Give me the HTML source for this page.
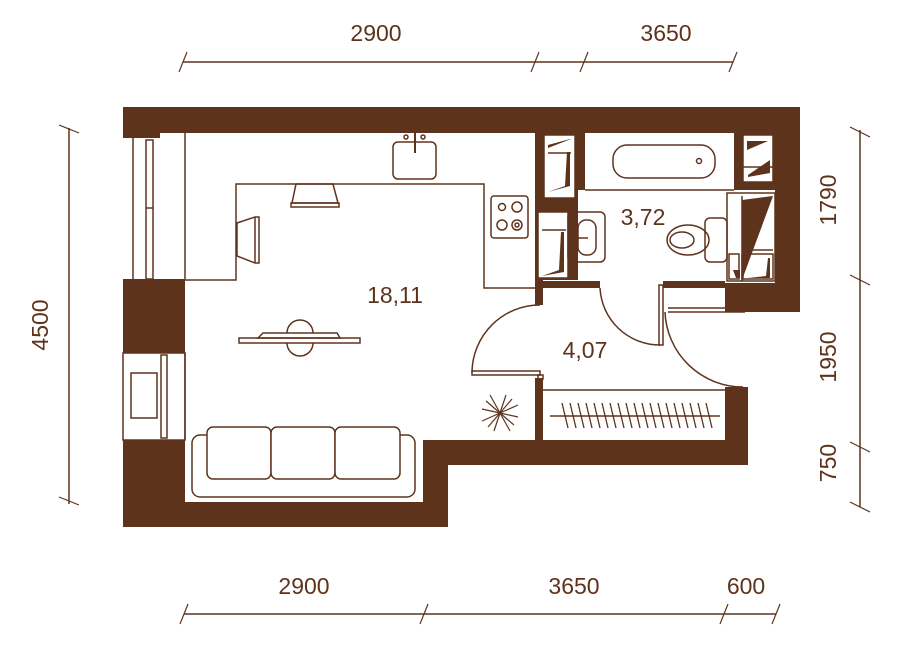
<!DOCTYPE html>
<html><head><meta charset="utf-8"><style>
html,body{margin:0;padding:0;background:#fff;width:900px;height:646px;overflow:hidden}
text{font-family:"Liberation Sans",sans-serif;fill:#5e331c;font-size:23px}
</style></head><body>
<svg width="900" height="646" viewBox="0 0 900 646" xmlns="http://www.w3.org/2000/svg">
<g fill="#5e331c" stroke="none">
<!-- top wall -->
<rect x="123" y="107" width="677" height="26"/>
<rect x="123" y="133" width="37" height="5"/>
<!-- left dark blocks -->
<rect x="123" y="279" width="62" height="74"/>
<rect x="123" y="440" width="62" height="87"/>
<!-- bottom wall -->
<rect x="123" y="502" width="325" height="25"/>
<rect x="423" y="440" width="25" height="87"/>
<rect x="423" y="440" width="325" height="25"/>
<rect x="725" y="387" width="23" height="78"/>
<!-- right wall -->
<rect x="775" y="107" width="25" height="205"/>
<rect x="734" y="133" width="41" height="57"/>
<rect x="725" y="283" width="75" height="29"/>
<!-- central column -->
<rect x="535" y="133" width="50" height="57"/>
<rect x="535" y="190" width="43" height="90"/>
<rect x="535" y="280" width="8" height="25"/>
<rect x="535" y="281" width="65" height="7"/>
<rect x="663" y="281" width="62" height="7"/>
<rect x="535" y="378" width="8" height="62"/>
</g>
<g fill="#fff" stroke="#5e331c" stroke-width="1.5">
<!-- shafts -->
<rect x="544" y="135" width="31" height="63"/>
<rect x="538" y="212" width="30" height="66"/>
<rect x="743" y="135" width="30" height="47"/>
<rect x="727" y="193" width="48" height="88"/>
</g>
<g fill="#5e331c">
<polygon points="548,192 570,186 570,152 567,152 565,186"/>
<polygon points="548,145 570,139 571,139 548,148" />
<polygon points="542,276 564,272 564,232 561,232 559,270"/>
<polygon points="748,177 770,173 770,160 748,175"/>
<polygon points="747,150 768,141 747,141"/>
<polygon points="742,200 773,196 742,280"/>
<polygon points="733,270 740,270 740,278 736,278"/>
<polygon points="748,278 770,278 770,258 768,258 766,276"/>
</g>
<g fill="none" stroke="#5e331c" stroke-width="1.5">
<line x1="548" y1="153" x2="571" y2="153"/>
<line x1="542" y1="230" x2="566" y2="230"/>
<line x1="743" y1="167" x2="773" y2="167"/>
<line x1="742" y1="250" x2="773" y2="250"/>
<line x1="742" y1="196" x2="742" y2="281"/>
<line x1="742" y1="254" x2="742" y2="281"/>
<rect x="729" y="254" width="10" height="25"/>
<rect x="743" y="254" width="30" height="25"/>
<!-- windows left -->
<line x1="133" y1="138" x2="133" y2="279"/>
<line x1="185" y1="133" x2="185" y2="279"/>
<rect x="146" y="140" width="7" height="139"/>
<line x1="146" y1="208" x2="153" y2="208"/>
<rect x="123" y="353" width="62" height="87"/>
<rect x="131" y="373" width="26" height="45"/>
<rect x="161" y="355" width="6" height="83"/>
<line x1="185" y1="353" x2="185" y2="440"/>
<!-- counter -->
<polyline points="185,280 236,280 236,184 484,184 484,288 535,288"/>
<rect x="393" y="142" width="43" height="37" rx="5"/>
<line x1="415" y1="133" x2="415" y2="153" stroke-width="2"/>
<circle cx="406" cy="137" r="2"/><circle cx="423" cy="137" r="2"/>
<polygon points="296,184 333,184 338,203 292,203"/>
<rect x="291" y="203" width="48" height="4"/>
<polygon points="237,223 255,217 259,217 259,263 255,263 237,256"/>
<line x1="255" y1="217" x2="255" y2="263"/>
<rect x="491" y="196" width="37" height="42" rx="3"/>
<circle cx="502" cy="207" r="3.5"/><circle cx="517" cy="207" r="5"/>
<circle cx="502" cy="225" r="5"/><circle cx="517" cy="225" r="5"/><circle cx="517" cy="225" r="2"/>
<!-- bathroom -->
<line x1="585" y1="190" x2="734" y2="190"/>
<rect x="613" y="145" width="102" height="33" rx="14"/>
<circle cx="699" cy="161" r="2.5"/>
<rect x="568" y="212" width="37" height="50" rx="5"/>
<rect x="578" y="220" width="18" height="35" rx="8"/>
<line x1="568" y1="238" x2="588" y2="238"/>
<rect x="705" y="218" width="22" height="44" rx="5"/>
<ellipse cx="688" cy="240" rx="21" ry="15"/>
<ellipse cx="682" cy="240" rx="12" ry="8"/>
<!-- doors -->
<path d="M600,288 A60,60 0 0 0 660,345"/>
<rect x="659" y="285" width="4" height="60"/>
<path d="M472,372 A68,68 0 0 1 540,305"/>
<rect x="472" y="371" width="68" height="4"/>
<rect x="538" y="375" width="5" height="4"/>
<line x1="668" y1="312" x2="745" y2="312"/>
<line x1="668" y1="308" x2="745" y2="308"/>
<line x1="745" y1="305" x2="745" y2="312"/>
<path d="M665,312 A78,78 0 0 0 743,387"/>
<line x1="543" y1="390" x2="725" y2="390"/>
<!-- storage rail -->
<line x1="550" y1="416" x2="720" y2="416"/>
<!-- tv -->
<rect x="239" y="338" width="121" height="5"/>
<polygon points="258,338 263,333 337,333 340,338"/>
<path d="M287,333 A13,13 0 0 1 313,333"/>
<path d="M287,343 A13,13 0 0 0 313,343"/>
<!-- sofa -->
<rect x="192" y="435" width="223" height="62" rx="8"/>
<rect x="207" y="427" width="64" height="52" rx="6" fill="#fff"/>
<rect x="271" y="427" width="64" height="52" rx="6" fill="#fff"/>
<rect x="335" y="427" width="65" height="52" rx="6" fill="#fff"/>
<!-- dimension lines -->
<line x1="183" y1="62" x2="733" y2="62"/>
<line x1="184" y1="614" x2="776" y2="614"/>
<line x1="69" y1="128" x2="69" y2="504"/>
<line x1="860" y1="130" x2="860" y2="507"/>
</g>
<g stroke="#5e331c" stroke-width="1.2" fill="none">
<line x1="187" y1="52" x2="179" y2="72"/><line x1="539" y1="52" x2="531" y2="72"/>
<line x1="588" y1="52" x2="580" y2="72"/><line x1="737" y1="52" x2="729" y2="72"/>
<line x1="188" y1="604" x2="180" y2="624"/><line x1="428" y1="604" x2="420" y2="624"/>
<line x1="728" y1="604" x2="720" y2="624"/><line x1="780" y1="604" x2="772" y2="624"/>
<line x1="59" y1="125" x2="79" y2="133"/><line x1="59" y1="497" x2="79" y2="505"/>
<line x1="850" y1="127" x2="870" y2="137"/><line x1="850" y1="275" x2="870" y2="285"/>
<line x1="850" y1="442" x2="870" y2="452"/><line x1="850" y1="502" x2="870" y2="512"/>
<!-- plant -->
<g transform="translate(500,413)">
<line x1="-18" y1="-4" x2="18" y2="4"/><line x1="-10" y1="-18" x2="10" y2="18"/>
<line x1="6" y1="-18" x2="-6" y2="18"/><line x1="-18" y1="8" x2="18" y2="-8"/>
<line x1="-14" y1="-12" x2="14" y2="12"/><line x1="12" y1="-14" x2="-12" y2="14"/>
</g>
<g stroke-width="1.3">
<line x1="562" y1="403" x2="568" y2="428"/><line x1="570" y1="403" x2="576" y2="428"/>
<line x1="578" y1="403" x2="584" y2="428"/><line x1="586" y1="403" x2="592" y2="428"/>
<line x1="594" y1="403" x2="600" y2="428"/><line x1="602" y1="403" x2="608" y2="428"/>
<line x1="610" y1="403" x2="616" y2="428"/><line x1="618" y1="403" x2="624" y2="428"/>
<line x1="626" y1="403" x2="632" y2="428"/><line x1="634" y1="403" x2="640" y2="428"/>
<line x1="642" y1="403" x2="648" y2="428"/><line x1="650" y1="403" x2="656" y2="428"/>
<line x1="658" y1="403" x2="664" y2="428"/><line x1="666" y1="403" x2="672" y2="428"/>
<line x1="674" y1="403" x2="680" y2="428"/><line x1="682" y1="403" x2="688" y2="428"/>
<line x1="690" y1="403" x2="696" y2="428"/><line x1="698" y1="403" x2="704" y2="428"/>
<line x1="706" y1="403" x2="712" y2="428"/>
</g>
</g>
<text x="376" y="41" text-anchor="middle">2900</text>
<text x="666" y="41" text-anchor="middle">3650</text>
<text x="304" y="594" text-anchor="middle">2900</text>
<text x="574" y="594" text-anchor="middle">3650</text>
<text x="746" y="594" text-anchor="middle">600</text>
<text x="395" y="303" text-anchor="middle">18,11</text>
<text x="643" y="225" text-anchor="middle">3,72</text>
<text x="585" y="358" text-anchor="middle">4,07</text>
<text transform="translate(48,325) rotate(-90)" text-anchor="middle">4500</text>
<text transform="translate(836,200) rotate(-90)" text-anchor="middle">1790</text>
<text transform="translate(836,357) rotate(-90)" text-anchor="middle">1950</text>
<text transform="translate(836,463) rotate(-90)" text-anchor="middle">750</text>
</svg>
</body></html>
